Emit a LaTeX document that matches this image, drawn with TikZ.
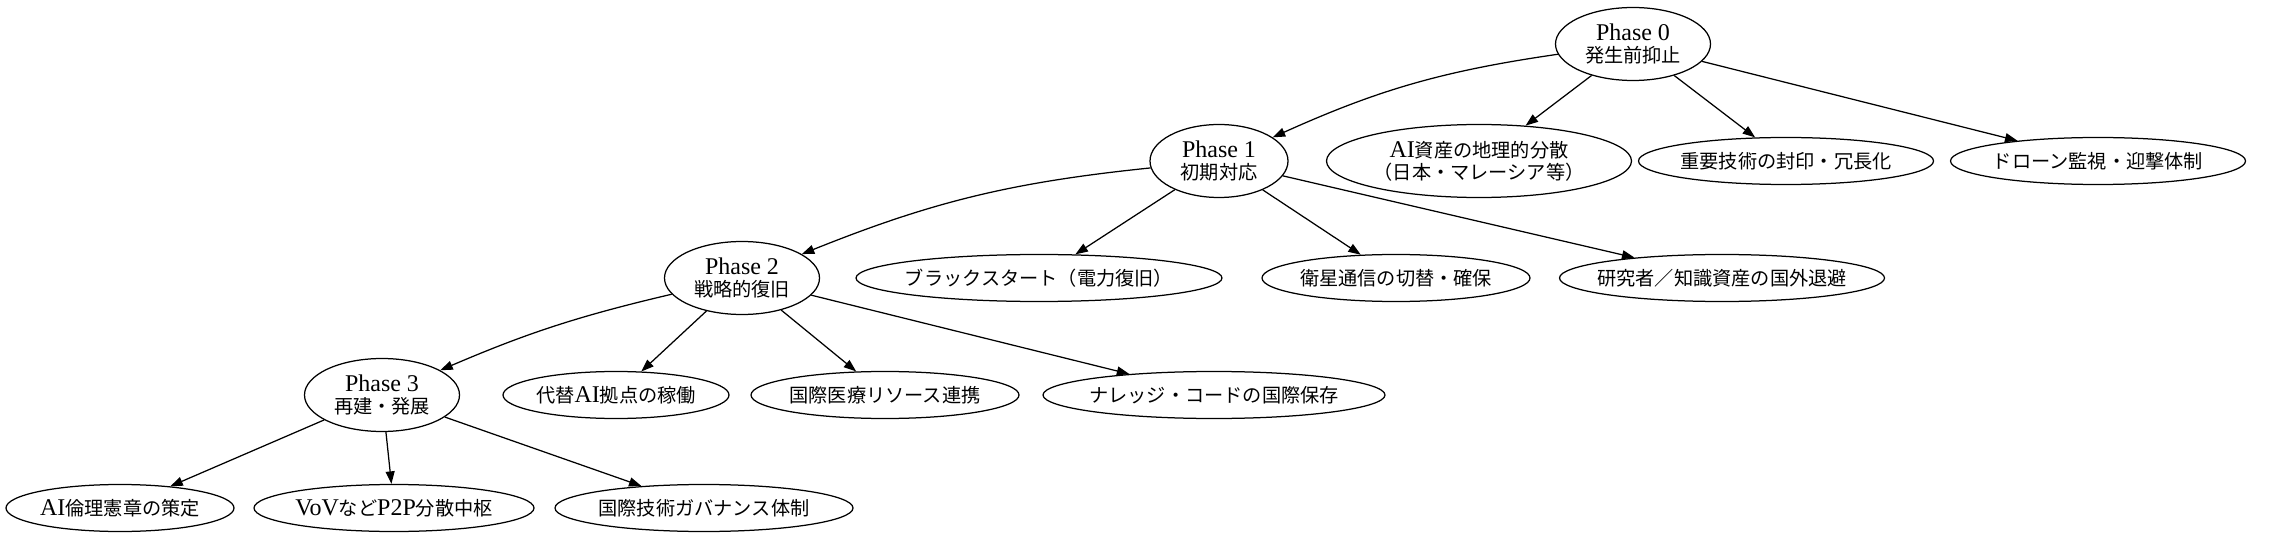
\documentclass[tikz,border=0pt]{standalone}
\usepackage{fontspec}
\setmainfont{Liberation Serif}
\newfontfamily\cjk[Scale=0.8]{Noto Sans CJK JP}
\newcommand{\jptext}[1]{{\cjk #1}}
\usetikzlibrary{shapes.geometric, arrows.meta, positioning}

\begin{document}
\begin{tikzpicture}
			[x=1pt, y=-1pt,
			every node/.style={font=\fontsize{24}{22}\selectfont},
			phase/.style={ellipse, draw, line width=1.25pt, align=center, inner xsep=-20pt, inner ysep=0pt, minimum height=73pt},
			task/.style={ellipse, draw, line width=1.25pt, align=center, inner xsep=-20pt, inner ysep=0pt, minimum height=47pt},
			edge/.style={-{Triangle[length=12.5pt, width=9pt]}, line width=1.25pt}]
			\useasboundingbox (0,0) rectangle (2294,537);
			% nodes %
			\node[phase, minimum width=155pt] (p0) at (1633,44) {Phase 0\\\jptext{発生前抑止}};
			\node[phase, minimum width=138pt] (p1) at (1219,161) {Phase 1\\\jptext{初期対応}};
			\node[phase, minimum width=305pt] (aidist) at (1479,161) {AI\jptext{資産の地理的分散}\\\jptext{（日本・マレーシア等）}};
			\node[task, minimum width=295pt] (seal) at (1786,161) {\jptext{重要技術の封印・冗長化}};
			\node[task, minimum width=295pt] (drone) at (2098,161) {\jptext{ドローン監視・迎撃体制}};
			\node[phase, minimum width=155pt] (p2) at (742,278) {Phase 2\\\jptext{戦略的復旧}};
			\node[task, minimum width=366pt] (blackstart) at (1039,278) {\jptext{ブラックスタート（電力復旧）}};
			\node[task, minimum width=268pt] (satcom) at (1396,278) {\jptext{衛星通信の切替・確保}};
			\node[task, minimum width=325pt] (evac) at (1722,278) {\jptext{研究者／知識資産の国外退避}};
			\node[phase, minimum width=155pt] (p3) at (382,395) {Phase 3\\\jptext{再建・発展}};
			\node[task, minimum width=226pt] (altai) at (616,395) {\jptext{代替}AI\jptext{拠点の稼働}};
			\node[task, minimum width=268pt] (medical) at (885,395) {\jptext{国際医療リソース連携}};
			\node[task, minimum width=342pt] (archive) at (1214,395) {\jptext{ナレッジ・コードの国際保存}};
			\node[task, minimum width=228pt] (charter) at (120,508) {AI\jptext{倫理憲章の策定}};
			\node[task, minimum width=280pt] (vov) at (394,508) {VoV\jptext{など}P2P\jptext{分散中枢}};
			\node[task, minimum width=298pt] (gov) at (704,508) {\jptext{国際技術ガバナンス体制}};

			% edges %
			\draw[edge] (p0) to[bend right=8] (p1);
			\draw[edge] (p0) -- (aidist);
			\draw[edge] (p0) -- (seal);
			\draw[edge] (p0) -- (drone);
			\draw[edge] (p1) to[bend right=8] (p2);
			\draw[edge] (p1) -- (blackstart);
			\draw[edge] (p1) -- (satcom);
			\draw[edge] (p1) -- (evac);
			\draw[edge] (p2) to[bend right=5] (p3);
			\draw[edge] (p2) -- (altai);
			\draw[edge] (p2) -- (medical);
			\draw[edge] (p2) -- (archive);
			\draw[edge] (p3) -- (charter);
			\draw[edge] (p3) -- (vov);
			\draw[edge] (p3) -- (gov);
			\end{tikzpicture}
\end{document}
